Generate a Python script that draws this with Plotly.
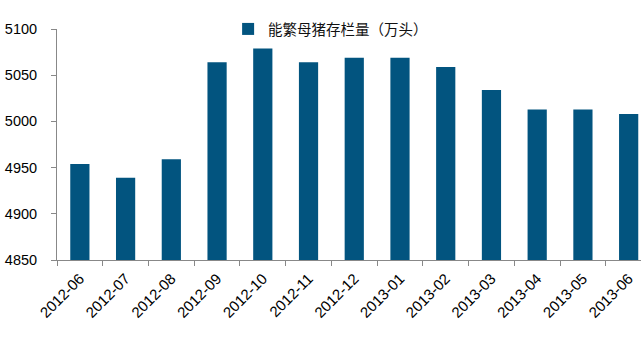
import plotly.graph_objects as go

categories = ["2012-06", "2012-07", "2012-08", "2012-09", "2012-10", "2012-11", "2012-12",
              "2013-01", "2013-02", "2013-03", "2013-04", "2013-05", "2013-06"]
values = [4954, 4939, 4959, 5064, 5079, 5064, 5069, 5069, 5059, 5034, 5013, 5013, 5008]
series_name = "能繁母猪存栏量（万头）"
y_ticks = [4850, 4900, 4950, 5000, 5050, 5100]

fig = go.Figure()
fig.add_trace(go.Bar(
    x=categories, y=values, name=series_name,
    marker=dict(color="#02547F", line=dict(width=0)),
    width=0.42,
    showlegend=True,
))

fig.update_layout(
    width=641, height=338,
    margin=dict(l=57, r=0, t=29, b=78),
    paper_bgcolor="white", plot_bgcolor="white",
    font=dict(family="Liberation Sans, Arial, sans-serif", size=14, color="#000000"),
    showlegend=True,
    legend=dict(
        x=0.293, y=1.0, xanchor="left", yanchor="middle",
        orientation="h",
        font=dict(family="Noto Sans CJK SC, sans-serif", size=14.5, color="#111111"),
        bgcolor="rgba(0,0,0,0)",
    ),
)

fig.update_xaxes(
    type="category",
    range=[-0.5, 12.27],
    showline=True, linecolor="#888888", linewidth=1,
    ticks="outside", tickson="boundaries", ticklen=5, tickcolor="#888888",
    tickangle=-45,
    ticklabelstandoff=3,
    tickfont=dict(size=15, color="#000000"),
    showgrid=False, zeroline=False,
)
fig.update_yaxes(
    range=[4850, 5100],
    tickvals=y_ticks,
    showline=True, linecolor="#888888", linewidth=1,
    ticks="outside", ticklen=5, tickcolor="#888888",
    ticklabelstandoff=11,
    tickfont=dict(size=14.5, color="#000000"),
    showgrid=False, zeroline=False,
)

fig.write_html("out.html")
